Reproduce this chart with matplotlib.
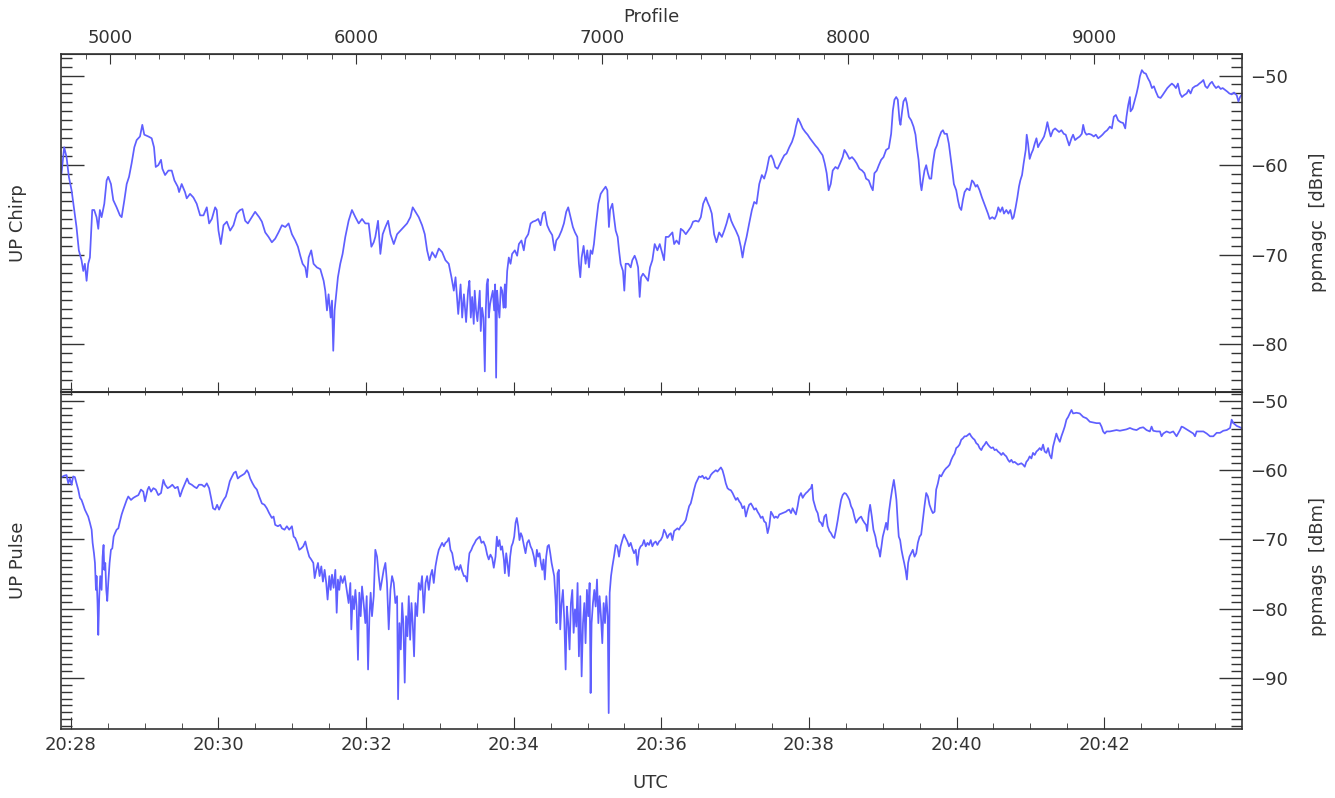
import numpy as np
import matplotlib
matplotlib.use('Agg')
import matplotlib.pyplot as plt
from matplotlib.ticker import MultipleLocator, FuncFormatter

# ── read-off data: (seconds after 20:28:00 UTC, dBm) ─────────────────────
chirp = np.array([
    (-7.6, -60.9), (-5.4, -58.0), (-3.5, -59.1), (-1.6, -61.3), (0.6, -62.8), (2.7, -65.0),
    (4.6, -66.9), (6.5, -69.5), (8.7, -70.6), (10.1, -71.8), (11.4, -71.0), (12.8, -72.9),
    (14.1, -71.0), (15.5, -70.3), (17.4, -65.0), (19.0, -65.0), (20.9, -65.8), (22.3, -67.1),
    (23.6, -65.0), (25.0, -65.8), (27.2, -64.3), (29.1, -61.7), (30.4, -61.3), (32.6, -62.1),
    (34.5, -63.9), (37.2, -64.7), (39.9, -65.6), (41.3, -65.8), (43.5, -63.9), (45.4, -62.1),
    (47.3, -61.3), (49.4, -59.8), (51.6, -58.0), (53.5, -57.2), (56.2, -56.8), (58.1, -55.5),
    (59.7, -56.6), (63.0, -56.8), (65.7, -57.0), (67.6, -58.0), (69.0, -60.2), (71.1, -60.0),
    (73.3, -59.4), (74.4, -60.4), (76.6, -61.1), (79.3, -60.6), (82.0, -60.6), (84.2, -61.7),
    (86.9, -62.4), (88.0, -63.0), (90.1, -62.1), (92.8, -63.0), (94.2, -63.7), (96.9, -63.2),
    (99.6, -63.6), (102.3, -64.3), (105.1, -65.6), (107.8, -65.6), (110.5, -64.7), (112.4, -66.5),
    (114.6, -66.0), (117.3, -64.7), (118.6, -65.0), (120.0, -67.3), (121.9, -68.8), (124.1, -66.7),
    (126.8, -66.3), (129.5, -67.3), (132.2, -66.7), (134.9, -65.4), (137.6, -65.0), (139.5, -64.9),
    (141.7, -66.2), (143.9, -66.5), (147.1, -65.8), (149.8, -65.2), (153.1, -65.8), (155.3, -66.3),
    (158.0, -67.5), (160.7, -68.0), (163.4, -68.6), (166.1, -68.2), (168.8, -67.5), (171.6, -66.7),
    (174.3, -66.9), (177.0, -66.5), (179.7, -67.7), (182.4, -68.4), (184.6, -69.1), (186.5, -70.1),
    (188.4, -71.0), (190.6, -71.4), (191.9, -72.5), (193.3, -70.3), (195.4, -69.5), (197.3, -71.0),
    (200.0, -71.4), (202.8, -71.6), (205.5, -72.9), (206.8, -74.0), (208.2, -76.2), (209.5, -74.4),
    (211.2, -77.0), (212.3, -75.1), (213.3, -80.7), (214.4, -76.2), (215.5, -74.7), (217.1, -72.5),
    (219.0, -71.0), (220.9, -69.9), (223.1, -68.0), (225.8, -66.2), (228.5, -65.0), (231.3, -65.8),
    (234.0, -66.5), (236.7, -66.0), (239.4, -66.5), (242.1, -66.5), (244.3, -69.1), (246.2, -68.6),
    (247.5, -68.0), (249.7, -66.2), (251.6, -69.9), (253.5, -67.7), (255.7, -66.9), (257.9, -66.2),
    (259.8, -67.7), (262.5, -68.8), (265.2, -67.7), (267.9, -67.3), (270.6, -66.9), (273.3, -66.5),
    (276.0, -65.8), (277.9, -64.7), (280.1, -65.2), (282.8, -65.8), (285.5, -66.7), (287.7, -67.7),
    (289.6, -69.5), (291.5, -70.6), (293.7, -69.7), (296.4, -70.3), (299.1, -69.3), (301.8, -69.7),
    (304.5, -70.6), (307.2, -71.0), (309.4, -72.5), (311.3, -74.0), (312.7, -72.5), (314.9, -76.6),
    (316.8, -73.3), (318.1, -77.0), (319.5, -74.4),
    (321.3, -77.5), (322.9, -74.0), (324.0, -72.9), (325.1, -77.0), (326.2, -74.7), (327.5, -77.7),
    (328.3, -74.0), (329.4, -76.2), (330.5, -77.4), (331.6, -75.5), (332.4, -74.0), (333.2, -78.5),
    (334.3, -75.9), (335.4, -77.0), (336.5, -83.0), (337.3, -76.2), (338.1, -73.3), (338.9, -72.7),
    (339.7, -77.0), (340.8, -75.5), (341.9, -74.7), (343.0, -74.0), (344.1, -76.2), (344.9, -73.3),
    (345.7, -83.7), (346.5, -74.0), (347.3, -75.5), (348.4, -77.0), (349.5, -73.6), (350.6, -74.0),
    (351.7, -75.9), (352.8, -73.3), (353.3, -75.9), (354.7, -71.8), (356.0, -70.3), (357.4, -71.0),
    (358.7, -69.9), (360.9, -69.5), (362.8, -70.1), (364.2, -68.8), (366.3, -68.4), (368.2, -69.5),
    (369.6, -68.2), (371.8, -67.7), (373.7, -66.5), (375.6, -66.3), (377.7, -66.2), (379.9, -66.0),
    (381.8, -66.7), (383.7, -65.4), (385.3, -65.2), (387.2, -66.7), (389.1, -67.3), (391.3, -67.8),
    (393.2, -69.5), (394.6, -68.4), (396.7, -68.0), (398.9, -67.3), (400.8, -66.5), (402.7, -65.2),
    (404.3, -64.7), (406.2, -65.8), (408.1, -66.9), (409.8, -67.5), (411.7, -68.0), (413.0, -71.0),
    (414.1, -72.5), (415.2, -70.3), (416.8, -69.0), (418.4, -71.0), (419.8, -69.5), (421.2, -71.4),
    (422.5, -69.5), (423.9, -69.9), (425.2, -68.8), (426.6, -66.9), (428.8, -64.3), (430.7, -63.2),
    (432.6, -62.8), (434.7, -62.4), (436.1, -62.8), (437.4, -66.9), (438.3, -65.0), (440.2, -64.3),
    (441.5, -65.8), (442.9, -67.3), (444.5, -68.0), (445.6, -69.5), (446.9, -71.0), (448.8, -71.8),
    (449.9, -74.0), (451.0, -71.0), (453.2, -71.0), (455.1, -71.4), (456.4, -70.6), (458.3, -70.1),
    (459.7, -70.6), (461.1, -71.4), (462.4, -74.7), (463.5, -72.5), (465.1, -72.1), (467.3, -72.5),
    (469.2, -72.9), (470.8, -71.4), (472.7, -70.6), (474.6, -68.8), (476.8, -69.5), (478.7, -68.8),
    (480.9, -69.9), (482.2, -70.6), (483.6, -68.0), (485.8, -68.0), (487.7, -67.7), (489.0, -67.5),
    (490.4, -68.8), (492.3, -68.4), (494.4, -68.8), (495.8, -67.1), (497.7, -67.3), (499.9, -67.7),
    (502.0, -67.3), (504.0, -66.9), (505.8, -66.3), (508.0, -66.2), (510.2, -66.3), (512.1, -65.8),
    (514.0, -64.3), (516.2, -63.6), (517.5, -64.1), (519.4, -64.7), (521.0, -65.4), (522.9, -67.7),
    (524.8, -68.6), (527.0, -67.5), (529.2, -68.0), (531.1, -67.3), (533.0, -66.5), (535.1, -65.4),
    (536.8, -66.2), (538.4, -66.7), (540.6, -67.3), (542.8, -68.0), (544.6, -69.1), (546.0, -70.3),
    (547.4, -69.1), (549.3, -68.0), (551.4, -66.5), (553.6, -65.0), (555.5, -64.1), (557.4, -64.3),
    (559.6, -62.1), (561.7, -61.1), (563.6, -61.5), (565.5, -60.6), (567.7, -59.1), (569.3, -58.9),
    (571.0, -59.4), (572.6, -60.2), (574.5, -60.4), (575.9, -60.0), (578.0, -59.4), (579.9, -58.9),
    (581.8, -58.7), (584.0, -58.0), (586.2, -57.4), (588.1, -56.6), (589.4, -55.7), (591.1, -54.8),
    (592.7, -55.2), (594.9, -55.9), (597.0, -56.3), (598.9, -56.6), (600.8, -57.0), (603.0, -57.4),
    (605.2, -57.8), (607.1, -58.1), (609.0, -58.5), (611.1, -58.9), (612.8, -59.8), (614.4, -60.9),
    (616.0, -62.8), (617.7, -62.1), (619.3, -60.6), (621.5, -60.2), (623.4, -60.4), (625.3, -59.8),
    (627.4, -59.1), (628.8, -58.3), (630.7, -58.7), (632.9, -59.3), (635.0, -59.1), (636.9, -59.4),
    (638.8, -59.8), (641.0, -60.4), (643.2, -60.6), (645.1, -60.9),
    (646.4, -61.5), (648.6, -61.7), (650.5, -62.4), (651.9, -62.8), (653.2, -60.9), (655.1, -60.6),
    (656.8, -60.0), (658.7, -59.4), (660.6, -59.1), (662.7, -58.3), (664.9, -58.1), (666.8, -56.5),
    (668.2, -53.9), (669.5, -52.7), (670.9, -52.4), (672.2, -52.7), (673.6, -55.0), (674.4, -55.5),
    (675.8, -53.9), (676.8, -52.9), (678.5, -52.5), (679.6, -53.1), (681.2, -54.6), (683.1, -55.0),
    (685.0, -55.7), (686.6, -56.6), (687.7, -58.0), (689.1, -59.4), (690.7, -62.1), (691.5, -62.8),
    (692.6, -61.7), (693.9, -60.6), (695.3, -60.0), (696.7, -60.9), (698.0, -61.5), (699.4, -61.5),
    (700.7, -59.8), (702.4, -58.3), (704.0, -57.8), (705.6, -57.0), (707.5, -56.3), (708.9, -56.1),
    (710.2, -56.5), (712.1, -56.5), (713.7, -57.6), (715.1, -59.1), (716.5, -60.6), (717.8, -62.1),
    (719.7, -62.8), (721.1, -63.9), (722.4, -64.7), (723.8, -65.0), (725.1, -63.9), (726.5, -63.0),
    (728.4, -62.6), (730.6, -62.8), (732.5, -61.7), (733.8, -61.9), (735.5, -62.4), (736.8, -62.2),
    (738.7, -62.8), (740.6, -63.6), (742.0, -64.1), (743.6, -64.7), (745.5, -65.4), (746.9, -66.0),
    (749.0, -65.8), (750.9, -66.0), (752.3, -65.6), (753.9, -64.7), (755.5, -65.2), (757.2, -64.7),
    (758.5, -65.4), (760.4, -65.0), (762.1, -65.4), (763.7, -65.0), (765.3, -66.0), (766.4, -65.8),
    (768.0, -64.7), (769.4, -63.6), (770.7, -62.4), (771.8, -61.7), (773.2, -61.1), (774.5, -59.8),
    (776.2, -58.3), (777.0, -56.6), (778.1, -57.6), (779.4, -59.3), (780.8, -58.7), (782.1, -58.3),
    (783.5, -57.6), (784.9, -57.0), (786.2, -58.0), (787.6, -57.6), (789.5, -57.2), (791.1, -56.8),
    (792.5, -56.1), (793.8, -55.2), (795.2, -56.1), (796.5, -56.8), (798.4, -56.1), (800.1, -55.9),
    (801.7, -56.1), (803.3, -56.3), (805.2, -56.1), (807.1, -56.5), (808.7, -56.6), (810.1, -57.2),
    (811.5, -57.8), (813.4, -57.0), (814.7, -56.6), (816.3, -57.2), (818.0, -57.0), (820.1, -56.8),
    (821.8, -56.5), (822.9, -55.5), (824.2, -56.3), (825.6, -56.6), (827.5, -56.5), (829.6, -56.6),
    (831.5, -56.8), (833.2, -56.6), (835.1, -57.0), (837.0, -56.8), (838.6, -56.6), (840.5, -56.3),
    (842.4, -56.1), (844.6, -55.7), (846.2, -55.9), (847.8, -54.6), (849.5, -54.4), (851.3, -55.0),
    (853.3, -55.2), (855.4, -55.3), (857.1, -55.9), (858.1, -54.6), (859.5, -53.3), (860.9, -52.4),
    (861.4, -54.0), (863.0, -53.7), (864.9, -52.7), (866.3, -52.0), (867.6, -51.2), (869.0, -50.1),
    (870.6, -49.4), (872.2, -49.7), (873.9, -49.8), (875.5, -50.3), (877.1, -50.7), (878.8, -51.4),
    (880.4, -51.2), (882.0, -51.8), (883.9, -52.4), (885.8, -52.5), (887.4, -52.2), (889.3, -51.8),
    (891.3, -51.4), (893.4, -51.1), (895.0, -50.9), (896.7, -51.1), (898.3, -51.4), (899.9, -50.9),
    (901.6, -52.0), (903.2, -52.4), (904.8, -52.2), (907.0, -52.0), (908.6, -51.6), (910.2, -52.0),
    (911.9, -51.4), (913.8, -51.2), (915.7, -51.1), (917.3, -50.9), (919.2, -50.7), (920.6, -50.5),
    (922.2, -51.2), (923.8, -51.4), (926.0, -50.9), (927.6, -50.7), (929.2, -51.1), (930.9, -51.4),
    (932.8, -51.2), (934.7, -51.5), (936.3, -51.4), (938.2, -51.6), (940.1, -51.8), (941.7, -52.0),
    (943.6, -52.1), (945.5, -51.9), (947.7, -52.2), (949.1, -52.9), (950.4, -52.4), (952.6, -52.0),
])

pulse = np.array([
    (-7.6, -61.0), (-5.4, -60.8), (-3.5, -60.7), (-2.1, -61.9), (-0.8, -61.2), (0.6, -62.1),
    (1.9, -60.9), (3.3, -61.0), (4.6, -61.9), (6.0, -62.8), (7.4, -64.0), (8.7, -64.3),
    (10.1, -65.0), (11.4, -65.7), (12.8, -66.2), (14.1, -66.7), (15.5, -67.6), (16.9, -68.6),
    (17.7, -70.5), (18.8, -72.0), (19.6, -73.4), (20.4, -77.3), (20.9, -75.3), (21.7, -79.2),
    (22.3, -83.8), (23.1, -78.2), (23.9, -75.3), (25.0, -77.3), (25.8, -72.5), (26.6, -70.8),
    (27.2, -74.4), (28.0, -73.4), (28.8, -77.3), (29.6, -78.9), (30.4, -76.3), (31.5, -73.4),
    (32.6, -71.5), (33.7, -71.3), (34.8, -69.6), (35.9, -69.1), (37.2, -68.6), (38.6, -68.4),
    (39.9, -67.4), (41.3, -66.4), (42.6, -65.7), (44.0, -65.0), (45.4, -64.3), (46.7, -63.8),
    (48.9, -64.3), (50.8, -64.0), (52.7, -63.8), (54.9, -63.6), (57.0, -62.8), (58.9, -63.1),
    (60.3, -64.5), (62.4, -62.8), (63.5, -62.4), (65.2, -63.1), (67.1, -62.6), (69.0, -62.8),
    (71.1, -63.6), (73.3, -63.3), (75.2, -61.4), (76.6, -62.1), (78.7, -62.6), (80.6, -62.4),
    (82.5, -62.1), (84.7, -62.6), (86.9, -62.4), (88.8, -63.8), (90.7, -62.8), (92.8, -61.9),
    (94.5, -61.2), (96.1, -61.9), (98.3, -62.1), (100.4, -62.4), (102.3, -62.6), (104.2, -62.1),
    (106.4, -62.1), (108.6, -62.4), (110.5, -61.9), (112.4, -62.6), (114.0, -64.0), (115.6, -65.5),
    (117.3, -65.7), (118.9, -65.0), (120.5, -65.7), (122.2, -65.0), (124.1, -64.3), (126.0, -63.8),
    (127.6, -62.8), (129.2, -61.6), (130.8, -61.0), (132.5, -60.4), (134.1, -60.2), (135.7, -61.2),
    (137.6, -60.9), (139.5, -60.7), (141.2, -60.5), (143.1, -60.0), (144.4, -60.4), (145.8, -61.2),
    (147.7, -61.9), (149.3, -62.4), (151.2, -62.8), (153.1, -63.8), (155.3, -64.8), (157.4, -65.0),
    (159.3, -65.5), (161.2, -66.2), (163.4, -66.9), (164.8, -66.7), (166.1, -67.9), (168.3, -68.1),
    (170.2, -67.9), (171.6, -68.4), (173.7, -68.6), (175.6, -68.1), (177.5, -68.6), (179.7, -68.1),
    (181.1, -69.6), (182.4, -69.8), (184.0, -70.5), (185.7, -71.5), (187.3, -71.3), (188.9, -71.0),
    (190.6, -70.3), (192.2, -71.5), (193.8, -72.5), (195.4, -72.9), (197.1, -73.4), (198.2, -75.6),
    (199.5, -74.4), (200.9, -73.4), (202.2, -75.3), (203.6, -73.9), (204.9, -76.1), (206.3, -74.4),
    (207.6, -76.3), (208.7, -78.7), (210.1, -75.3), (211.2, -77.3), (212.3, -75.1), (213.6, -77.0),
    (215.0, -74.4), (216.1, -80.6), (217.1, -75.8), (218.2, -77.3), (219.3, -75.3), (220.9, -76.3),
    (222.6, -75.3), (224.2, -77.3), (225.8, -79.2), (227.2, -76.3), (228.0, -83.0), (229.1, -78.2),
    (230.2, -80.1), (231.3, -77.3), (232.3, -79.7), (233.4, -87.4), (234.5, -77.7), (235.6, -81.1),
    (236.7, -76.8), (238.0, -79.2), (239.4, -82.1), (240.5, -78.2), (241.6, -88.8), (242.7, -81.1),
    (243.7, -77.7), (244.8, -81.1), (246.2, -78.2), (247.5, -71.5), (248.9, -72.5), (250.3, -75.3),
    (251.6, -77.3), (253.0, -75.8), (254.3, -74.4), (255.7, -73.4), (257.0, -76.3), (258.4, -83.0),
    (259.8, -77.3), (261.1, -75.3), (262.5, -76.3), (263.8, -79.2), (265.2, -78.2), (266.0, -93.1),
    (267.1, -82.1), (268.2, -85.9), (269.3, -79.2), (270.3, -82.1), (271.4, -90.7), (272.5, -81.1),
    (273.6, -84.0), (274.7, -78.2), (275.8, -84.5), (276.9, -79.2), (277.9, -82.1), (279.0, -86.9),
    (280.1, -79.2), (281.5, -81.1), (282.8, -76.3), (284.2, -77.3), (285.5, -75.3), (286.9, -80.6),
    (288.3, -76.3), (289.6, -75.3), (291.0, -77.3), (292.3, -75.3), (293.7, -74.4), (295.0, -76.3),
    (296.4, -73.9), (297.8, -72.5), (299.1, -71.5), (300.5, -71.0), (301.8, -70.5), (303.2, -71.0),
    (304.5, -70.5), (305.9, -70.3), (307.3, -69.8), (308.6, -71.5), (310.0, -72.0), (311.3, -73.4),
    (312.7, -74.4), (314.0, -73.9), (315.4, -74.4), (316.7, -73.7), (318.1, -74.6), (319.5, -75.3),
    (320.7, -75.3), (322.1, -76.1), (322.9, -73.9), (324.0, -72.0), (325.6, -71.5), (326.7, -71.0),
    (328.3, -70.5), (329.4, -70.1), (331.1, -69.8), (332.4, -69.6), (333.8, -70.5), (335.4, -70.3),
    (337.0, -71.0), (338.4, -72.2), (339.7, -72.9), (341.1, -72.2), (342.5, -72.7), (343.8, -74.1),
    (345.2, -72.5), (346.3, -69.6), (347.3, -71.0), (348.4, -70.1), (349.5, -71.5), (350.6, -71.0),
    (352.0, -72.9), (352.8, -74.9), (353.9, -72.0), (354.9, -73.4), (356.0, -75.3), (357.1, -72.5),
    (358.2, -71.0), (359.3, -70.5), (360.4, -69.6), (361.5, -67.6), (362.5, -66.9), (363.6, -68.1),
    (364.7, -70.1), (365.8, -69.1), (366.9, -69.6), (368.2, -70.8), (369.6, -72.0), (370.9, -70.5),
    (372.3, -70.1), (373.7, -71.0), (375.0, -71.5), (376.4, -72.5), (377.7, -73.9), (378.8, -71.5),
    (379.9, -72.5), (381.0, -72.0), (382.1, -73.4), (383.2, -74.4), (384.2, -72.9), (385.3, -75.8),
    (386.4, -72.5), (387.5, -71.0), (388.6, -70.8), (389.7, -72.0), (390.8, -73.4), (391.9, -74.4),
    (392.9, -75.3), (394.0, -78.7), (394.8, -82.1), (395.6, -74.9), (396.7, -74.4), (397.8, -83.0),
    (398.9, -79.2), (400.0, -77.3), (401.1, -81.6), (402.2, -88.8), (403.2, -79.7), (404.3, -82.1),
    (405.4, -85.9), (406.5, -79.2), (407.6, -77.3), (408.7, -83.5), (409.8, -80.1), (410.9, -82.6),
    (411.9, -76.3), (413.0, -86.9), (414.1, -78.2), (415.2, -89.8), (416.3, -82.1), (417.4, -79.2),
    (418.4, -85.0), (419.5, -77.3), (420.6, -81.1), (421.7, -76.3), (422.5, -92.2), (423.3, -82.1),
    (424.4, -79.2), (425.5, -77.3), (426.6, -79.7), (427.7, -75.8), (428.8, -82.1), (429.8, -78.2),
    (430.9, -81.1), (432.0, -85.0), (433.1, -79.2), (434.2, -82.1), (435.3, -78.2), (436.4, -81.1),
    (437.2, -95.1), (438.0, -77.7), (439.1, -75.3), (440.2, -73.9), (441.5, -72.5), (442.9, -70.8),
    (444.2, -71.0), (445.6, -72.5), (446.9, -71.0), (448.3, -70.1), (449.7, -69.3), (451.0, -69.8),
    (452.4, -70.3), (453.7, -71.0), (455.1, -70.5), (456.4, -71.3), (457.8, -72.0), (459.2, -71.5),
    (460.5, -73.7), (461.9, -71.5), (463.2, -71.0), (464.6, -70.8), (465.9, -70.1), (467.3, -71.0),
    (468.7, -70.5), (470.0, -70.8), (471.4, -70.1), (472.7, -71.0), (474.1, -70.5), (475.4, -70.3),
    (476.8, -70.8), (478.2, -70.3), (479.5, -70.1), (480.9, -69.6), (482.2, -68.6), (483.6, -69.1),
    (484.9, -69.8), (486.3, -69.3), (487.7, -69.1), (489.0, -70.1), (490.4, -68.8), (491.7, -68.6),
    (493.1, -68.4), (494.4, -68.6), (495.8, -68.1), (497.2, -67.9), (498.5, -67.6), (499.9, -67.2),
    (501.2, -66.2), (502.6, -65.2), (503.9, -64.8), (505.3, -63.8), (506.6, -62.8), (508.0, -61.9),
    (509.4, -61.4), (510.7, -60.9), (512.1, -61.0), (513.4, -60.8), (514.8, -61.2), (516.2, -61.0),
    (517.5, -61.3), (518.9, -61.2), (520.2, -60.7), (521.6, -60.4), (522.9, -60.2), (524.3, -60.0),
    (525.6, -60.2), (527.0, -59.9), (528.4, -59.6), (529.7, -60.0), (531.1, -60.9), (532.4, -61.9),
    (533.8, -62.6), (535.1, -62.8), (536.5, -62.9), (537.9, -63.3), (539.2, -63.8), (540.6, -64.3),
    (541.9, -64.0), (543.3, -64.5), (544.6, -64.8), (546.0, -65.5), (547.4, -65.2), (548.7, -66.7),
    (550.1, -65.7), (551.4, -65.0), (552.8, -64.8), (554.1, -65.2), (555.5, -65.7), (556.9, -65.5),
    (558.2, -66.0), (559.6, -66.4), (560.9, -66.9), (562.3, -66.7), (563.6, -67.4), (565.0, -67.6),
    (566.4, -69.1), (567.7, -68.1), (569.1, -66.0), (570.4, -66.4), (571.8, -66.9), (573.1, -66.7),
    (574.5, -66.9), (575.9, -66.4), (577.2, -66.3), (578.6, -66.2), (579.9, -66.1), (581.3, -66.0),
    (582.6, -65.8), (584.0, -65.7), (585.4, -66.2), (586.7, -65.5), (588.1, -66.0), (589.4, -66.4),
    (590.8, -65.2), (592.1, -63.8), (593.5, -63.3), (594.9, -64.0), (596.2, -63.6), (597.6, -63.3),
    (598.9, -63.1), (600.3, -62.8), (601.6, -62.6), (602.5, -62.1), (603.5, -64.3), (604.6, -65.0),
    (605.7, -65.7), (607.1, -66.2), (608.4, -67.4), (609.8, -67.6), (611.1, -68.1), (612.5, -66.7),
    (613.9, -66.4), (615.2, -68.1), (616.6, -68.8), (617.9, -69.1), (619.3, -69.6), (620.6, -69.8),
    (622.0, -68.6), (623.4, -67.2), (624.7, -65.7), (626.1, -64.3), (627.4, -63.6), (628.8, -63.3),
    (630.1, -63.4), (631.5, -63.8), (632.9, -64.3), (634.2, -65.2), (635.6, -65.7), (636.9, -66.7),
    (638.3, -67.6), (639.6, -67.2), (641.0, -66.9), (642.4, -66.7), (643.7, -67.2), (645.1, -67.6),
    (646.4, -67.9), (647.3, -68.8), (648.6, -66.2), (649.7, -65.0), (651.1, -66.7), (652.4, -68.6),
    (654.0, -69.6), (655.4, -71.0), (656.8, -71.5), (657.8, -72.5), (658.9, -71.0), (660.0, -69.6),
    (661.4, -68.6), (662.7, -67.6), (663.8, -68.6), (664.9, -66.2), (666.3, -64.3), (667.6, -62.8),
    (669.0, -61.4), (670.1, -62.8), (671.1, -64.3), (672.2, -67.6), (673.0, -69.6), (674.1, -70.1),
    (675.2, -71.5), (676.3, -72.5), (677.4, -73.4), (678.5, -74.4), (679.6, -75.8), (680.6, -73.4),
    (681.7, -72.5), (683.1, -72.0), (684.4, -71.5), (685.8, -72.5), (687.2, -72.0), (688.5, -70.5),
    (689.9, -69.6), (691.2, -69.3), (692.6, -67.2), (693.9, -65.2), (695.3, -63.3), (696.7, -63.8),
    (698.0, -65.0), (699.4, -65.7), (700.7, -66.2), (702.1, -66.0), (703.4, -62.8), (704.8, -61.9),
    (706.2, -60.7), (707.5, -60.9), (708.9, -60.4), (710.2, -60.0), (711.6, -59.7), (712.9, -59.5),
    (714.3, -59.2), (715.7, -58.5), (717.0, -58.0), (718.4, -57.6), (719.7, -56.8), (721.1, -56.6),
    (722.4, -56.3), (723.8, -55.6), (725.1, -55.4), (726.5, -55.1), (727.9, -55.1), (729.2, -54.9),
    (730.6, -54.7), (731.9, -55.1), (733.3, -55.4), (734.6, -55.6), (736.0, -56.1), (737.4, -56.3),
    (738.7, -56.8), (740.1, -57.1), (741.4, -56.6), (742.8, -56.3), (744.1, -55.9), (745.5, -56.3),
    (746.9, -56.6), (748.2, -56.8), (749.6, -56.7), (750.9, -57.1), (752.3, -57.0), (753.6, -57.3),
    (755.0, -57.5), (756.4, -57.8), (757.7, -57.5), (759.1, -57.8), (760.4, -58.0), (761.8, -58.5),
    (763.1, -58.8), (764.5, -58.5), (765.9, -58.9), (767.2, -58.8), (768.6, -59.0), (769.9, -59.2),
    (771.3, -59.1), (772.6, -59.0), (774.0, -59.2), (775.4, -59.5), (776.7, -58.8), (778.1, -58.5),
    (779.4, -58.0), (780.8, -58.3), (782.1, -57.5), (783.5, -57.8), (784.9, -57.3), (786.2, -57.1),
    (787.6, -56.8), (788.9, -57.1), (790.3, -56.3), (791.6, -57.3), (793.0, -57.5), (794.4, -56.8),
    (795.7, -57.8), (797.1, -58.3), (798.4, -56.6), (799.8, -55.6), (801.1, -54.7), (802.5, -55.4),
    (803.9, -55.9), (805.2, -55.1), (806.6, -54.4), (807.9, -53.7), (809.3, -52.7), (810.7, -52.3),
    (812.0, -51.8), (813.4, -51.3), (814.7, -51.8), (817.4, -51.7), (820.1, -51.8), (822.9, -52.3),
    (825.6, -52.5), (828.3, -53.0), (831.0, -53.1), (833.7, -53.2), (836.4, -53.2), (837.8, -53.7),
    (839.1, -54.4), (840.5, -54.7), (841.9, -54.4), (844.6, -54.4), (847.3, -54.3), (850.0, -54.2),
    (852.7, -54.3), (855.4, -54.2), (858.1, -54.1), (860.9, -53.9), (863.6, -54.1), (866.3, -54.2),
    (869.0, -53.9), (871.7, -53.8), (874.4, -54.2), (877.1, -54.4), (878.5, -53.7), (879.8, -54.3),
    (882.6, -54.4), (885.3, -54.4), (886.6, -55.1), (888.0, -54.7), (890.7, -54.4), (893.4, -54.6),
    (896.1, -54.4), (898.8, -55.1), (901.6, -54.2), (902.9, -53.7), (904.3, -53.8), (907.0, -54.1),
    (909.7, -54.4), (912.4, -54.7), (913.8, -55.1), (915.1, -54.4), (917.8, -54.4), (920.6, -54.4),
    (923.3, -54.7), (926.0, -55.1), (928.7, -55.1), (931.4, -54.6), (934.1, -54.6), (936.8, -54.3),
    (939.6, -54.2), (942.3, -53.9), (943.6, -52.7), (945.0, -53.2), (947.7, -53.6), (950.4, -53.8),
    (953.1, -54.1),
])

chirp_t, chirp_db = chirp.T
pulse_t, pulse_db = pulse.T

time_ticks = [0, 120, 240, 360, 480, 600, 720, 840]
profile_ticks = [5000, 6000, 7000, 8000, 9000]
t_range = (-8, 952)
chirp_ylim = (-85.3, -47.6)
pulse_ylim = (-97.4, -48.7)

LINE = '#5f5fff'
INK = '#333333'

plt.rcParams['font.family'] = ['DejaVu Sans']
plt.rcParams['font.size'] = 13


def t2prof(t):
    return 4800.0 + (np.asarray(t) + 8.0) * 5.0


def prof2t(p):
    return (np.asarray(p) - 4800.0) / 5.0 - 8.0


def utc_label(v, pos):
    m = int(round(v / 60.0))
    return f'20:{28 + m:02d}'


fig = plt.figure(figsize=(13.35, 7.98), dpi=100)
ax1 = fig.add_axes([61 / 1335, 1 - 392 / 798, (1242 - 61) / 1335, (392 - 54) / 798])
ax2 = fig.add_axes([61 / 1335, 1 - 729 / 798, (1242 - 61) / 1335, (729 - 392) / 798])

for ax, t, db, ylim, ymaj in [(ax1, chirp_t, chirp_db, chirp_ylim, [-80, -70, -60, -50]),
                              (ax2, pulse_t, pulse_db, pulse_ylim, [-90, -80, -70, -60, -50])]:
    ax.plot(t, db, color=LINE, lw=1.25)
    ax.set_xlim(*t_range)
    ax.set_ylim(*ylim)
    ax.set_yticks(ymaj)
    ax.yaxis.set_minor_locator(MultipleLocator(1))
    ax.set_xticks(time_ticks)
    ax.xaxis.set_minor_locator(MultipleLocator(30))
    ax.tick_params(axis='y', which='both', direction='in', left=True, right=True,
                   labelleft=False, labelright=True, colors=INK, pad=6)
    ax.tick_params(axis='y', which='major', length=16.5, width=1.0)
    ax.tick_params(axis='y', which='minor', length=8, width=1.0)
    for s in ax.spines.values():
        s.set_color(INK)
        s.set_linewidth(1.2)

# top panel: time ticks underneath without labels, profile axis on top
ax1.tick_params(axis='x', which='both', direction='in', bottom=True, top=False,
                labelbottom=False, colors=INK)
ax1.tick_params(axis='x', which='major', length=7)
ax1.tick_params(axis='x', which='minor', length=3.5)

sec = ax1.secondary_xaxis('top', functions=(t2prof, prof2t))
sec.set_xticks(profile_ticks)
sec.xaxis.set_minor_locator(MultipleLocator(100))
sec.tick_params(axis='x', which='both', direction='in', colors=INK, pad=5)
sec.tick_params(axis='x', which='major', length=7)
sec.tick_params(axis='x', which='minor', length=3.5)
sec.spines['top'].set_color(INK)

# bottom panel: UTC labels, short ticks along the shared edge
ax2.xaxis.set_major_formatter(FuncFormatter(utc_label))
ax2.tick_params(axis='x', which='both', direction='in', bottom=True, top=False,
                labelbottom=True, colors=INK, pad=5)
ax2.tick_params(axis='x', which='major', length=9)
ax2.tick_params(axis='x', which='minor', length=4.5)

edge = ax2.secondary_xaxis('top')
edge.set_xticks(time_ticks)
edge.xaxis.set_minor_locator(MultipleLocator(30))
edge.tick_params(axis='x', which='both', direction='in', length=2.5, colors=INK,
                 labeltop=False)

fig.text(651 / 1335, 1 - 17 / 798, 'Profile', ha='center', va='center', color=INK, fontsize=13)
fig.text(650 / 1335, 1 - 783 / 798, 'UTC', ha='center', va='center', color=INK, fontsize=13)
fig.text(18 / 1335, 1 - 223 / 798, 'UP Chirp', rotation=90, ha='center', va='center',
         color=INK, fontsize=13)
fig.text(18 / 1335, 1 - 560 / 798, 'UP Pulse', rotation=90, ha='center', va='center',
         color=INK, fontsize=13)
fig.text(1318 / 1335, 1 - 222 / 798, 'ppmagc  [dBm]', rotation=90, ha='center', va='center',
         color=INK, fontsize=13)
fig.text(1318 / 1335, 1 - 566 / 798, 'ppmags  [dBm]', rotation=90, ha='center', va='center',
         color=INK, fontsize=13)

fig.savefig('out.png', dpi=100)
